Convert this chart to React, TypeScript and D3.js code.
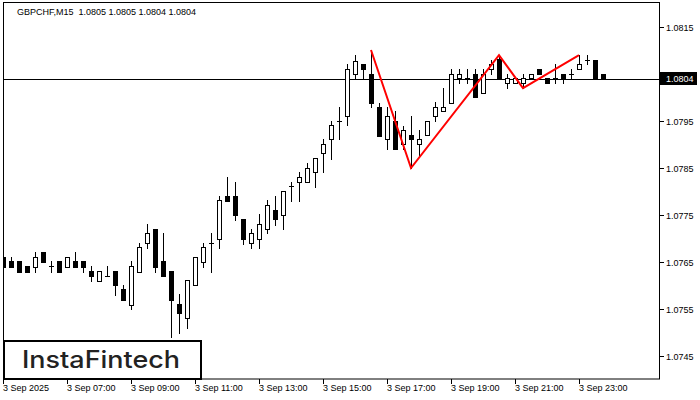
import React from 'react';
import * as d3 from 'd3';

const opens = [1.0766,1.07652,1.07652,1.07641,1.0764,1.07671,1.07641,1.07652,1.0764,1.07652,1.07652,1.07631,1.0761,1.0762,1.07631,1.07592,1.07559,1.07629,1.0769,1.0772,1.07652,1.07631,1.07561,1.0753,1.076,1.07651,1.0769,1.077,1.0779,1.0779,1.07741,1.0769,1.077,1.0772,1.07761,1.07751,1.07811,1.0782,1.0782,1.07841,1.07881,1.07911,1.07949,1.07961,1.08049,1.08071,1.0805,1.07979,1.07911,1.0795,1.079,1.0792,1.079,1.0792,1.07961,1.07971,1.07989,1.08042,1.08041,1.0805,1.08009,1.0806,1.08081,1.0803,1.0803,1.0803,1.08041,1.0806,1.08041,1.08041,1.0805,1.0805,1.0806,1.0808,1.0808,1.0805];
const highs = [1.07671,1.0766,1.07652,1.07641,1.07671,1.07671,1.07652,1.07652,1.0766,1.07671,1.07652,1.07641,1.07631,1.07641,1.07631,1.076,1.07652,1.07691,1.07731,1.0772,1.07712,1.07631,1.07582,1.07612,1.0766,1.07691,1.07712,1.0779,1.0783,1.0782,1.07741,1.0772,1.07752,1.07782,1.0779,1.07801,1.0782,1.07841,1.0786,1.07871,1.07911,1.07951,1.0798,1.08071,1.0809,1.08071,1.08101,1.07989,1.0798,1.07971,1.07939,1.07961,1.07931,1.0795,1.07991,1.0802,1.0806,1.0806,1.0806,1.0806,1.0806,1.0808,1.0809,1.08051,1.08041,1.08051,1.0805,1.0806,1.08041,1.08071,1.0805,1.0806,1.0809,1.0809,1.0808,1.0805];
const lows = [1.0764,1.0764,1.07629,1.07629,1.07629,1.07651,1.07629,1.07629,1.0764,1.0764,1.07629,1.0761,1.0761,1.0762,1.0758,1.07569,1.0755,1.07629,1.0768,1.07629,1.07621,1.07491,1.075,1.0751,1.076,1.0764,1.07629,1.0768,1.0778,1.07739,1.07688,1.0768,1.0768,1.07711,1.07729,1.0772,1.0778,1.0778,1.0782,1.0781,1.07841,1.0787,1.07911,1.07941,1.08041,1.08041,1.0798,1.07918,1.0789,1.0789,1.0789,1.0785,1.07873,1.0792,1.0795,1.07971,1.07989,1.08031,1.08031,1.08,1.08009,1.08051,1.08042,1.0802,1.0803,1.0802,1.08041,1.0805,1.0803,1.0803,1.0803,1.08042,1.0806,1.08071,1.08041,1.0804];
const closes = [1.0764,1.0764,1.07629,1.07629,1.0766,1.07651,1.0764,1.07629,1.0766,1.0764,1.0764,1.07621,1.07631,1.07621,1.076,1.07569,1.07641,1.07681,1.07711,1.0764,1.07621,1.07569,1.07541,1.07612,1.0766,1.07681,1.07691,1.07782,1.0778,1.07751,1.077,1.07711,1.0773,1.07771,1.07741,1.07801,1.07812,1.0783,1.07849,1.07871,1.07901,1.07941,1.0795,1.0806,1.08078,1.0806,1.07989,1.07918,1.07961,1.0789,1.07931,1.07911,1.07911,1.0795,1.07979,1.07979,1.0805,1.0805,1.08042,1.08,1.0805,1.08071,1.08042,1.08041,1.08041,1.08041,1.0805,1.0805,1.0803,1.08041,1.08042,1.0805,1.08071,1.0808,1.08041,1.0804];

const xTickIndex = [0, 8, 16, 24, 32, 40, 48, 56, 64, 72];
const xTickLabels = ['3 Sep 2025','3 Sep 07:00','3 Sep 09:00','3 Sep 11:00','3 Sep 13:00','3 Sep 15:00','3 Sep 17:00','3 Sep 19:00','3 Sep 21:00','3 Sep 23:00'];
const yTicks = [1.0745, 1.0755, 1.0765, 1.0775, 1.0785, 1.0795, 1.0805, 1.0815];
const patternIndex = [46, 51, 62, 65, 72];
const patternPrice = [1.08101, 1.0785, 1.0809, 1.0802, 1.0809];
const currentPrice = 1.0804;
const title = 'GBPCHF,M15  1.0805 1.0805 1.0804 1.0804';

const W = 700, H = 400;
const L = 3, R = 659, T = 3, B = 379;
const font = '"Liberation Sans", Arial, sans-serif';

export default function App() {
  const x = d3.scaleLinear().domain([0, 75]).range([3, 603]);
  const y = d3.scaleLinear().domain([1.0745, 1.0815]).range([356, 27]);
  const line = d3.line<number>().x((_, i) => x(patternIndex[i])).y((d) => y(d));
  const cy = Math.round(y(currentPrice)) + 0.5;

  return (
    <svg width={W} height={H} style={{ position: 'absolute', left: 0, top: 0, background: '#fff' }}>
      <defs>
        <clipPath id="plot"><rect x={L} y={T} width={R - L} height={B - T} /></clipPath>
      </defs>
      <rect x={0} y={0} width={W} height={H} fill="#fff" />
      <g clipPath="url(#plot)">
        <line x1={L} x2={R} y1={cy} y2={cy} stroke="#000" strokeWidth={1} />
        {opens.map((o, i) => {
          const c = closes[i];
          const cx = Math.round(x(i));
          const yh = Math.round(y(highs[i]));
          const yl = Math.round(y(lows[i]));
          const yTop = Math.round(y(Math.max(o, c)));
          const yBot = Math.round(y(Math.min(o, c)));
          const bull = c >= o;
          const doji = yBot - yTop < 2;
          return (
            <g key={i}>
              <line x1={cx + 0.5} x2={cx + 0.5} y1={yh} y2={yl + 1} stroke="#000" strokeWidth={1} />
              {doji ? (
                <line x1={cx - 2} x2={cx + 3} y1={yTop + 0.5} y2={yTop + 0.5} stroke="#000" strokeWidth={1} />
              ) : bull ? (
                <rect x={cx - 1.5} y={yTop + 0.5} width={4} height={yBot - yTop} fill="#fff" stroke="#000" strokeWidth={1} />
              ) : (
                <rect x={cx - 2} y={yTop} width={5} height={yBot - yTop + 1} fill="#000" />
              )}
            </g>
          );
        })}
        <path d={line(patternPrice) || ''} fill="none" stroke="#ff0000" strokeWidth={2} strokeLinejoin="miter" />
      </g>
      <rect x={L + 0.5} y={T - 0.5} width={R - L} height={B - T + 0.5} fill="none" stroke="#000" strokeWidth={1} />
      {yTicks.map((t) => (
        <g key={t}>
          <line x1={R} x2={R + 5} y1={Math.round(y(t)) + 0.5} y2={Math.round(y(t)) + 0.5} stroke="#000" />
          <text x={666} y={y(t) + 3.5} fontFamily={font} fontSize={9} fill="#000">{t.toFixed(4)}</text>
        </g>
      ))}
      <rect x={660} y={72} width={37} height={13} fill="#000" />
      <text x={666} y={y(currentPrice) + 3.5} fontFamily={font} fontSize={9} fill="#fff">{currentPrice.toFixed(4)}</text>
      {xTickIndex.map((idx, k) => (
        <g key={idx}>
          <line x1={Math.round(x(idx)) + 0.5} x2={Math.round(x(idx)) + 0.5} y1={B} y2={B + 5} stroke="#000" />
          <text x={Math.round(x(idx))} y={391} fontFamily={font} fontSize={9} fill="#000">{xTickLabels[k]}</text>
        </g>
      ))}
      <text x={17} y={15} fontFamily={font} fontSize={9} fill="#000" style={{ whiteSpace: 'pre' }}>{title}</text>
      <rect x={4} y={341} width={197} height={38} fill="#fff" stroke="#000" strokeWidth={2} />
      <text x={22} y={368} fontFamily='Inter, "Noto Sans", sans-serif' fontWeight={500} fontSize={24} fill="#222" textLength={158} lengthAdjust="spacingAndGlyphs">InstaFintech</text>
    </svg>
  );
}
